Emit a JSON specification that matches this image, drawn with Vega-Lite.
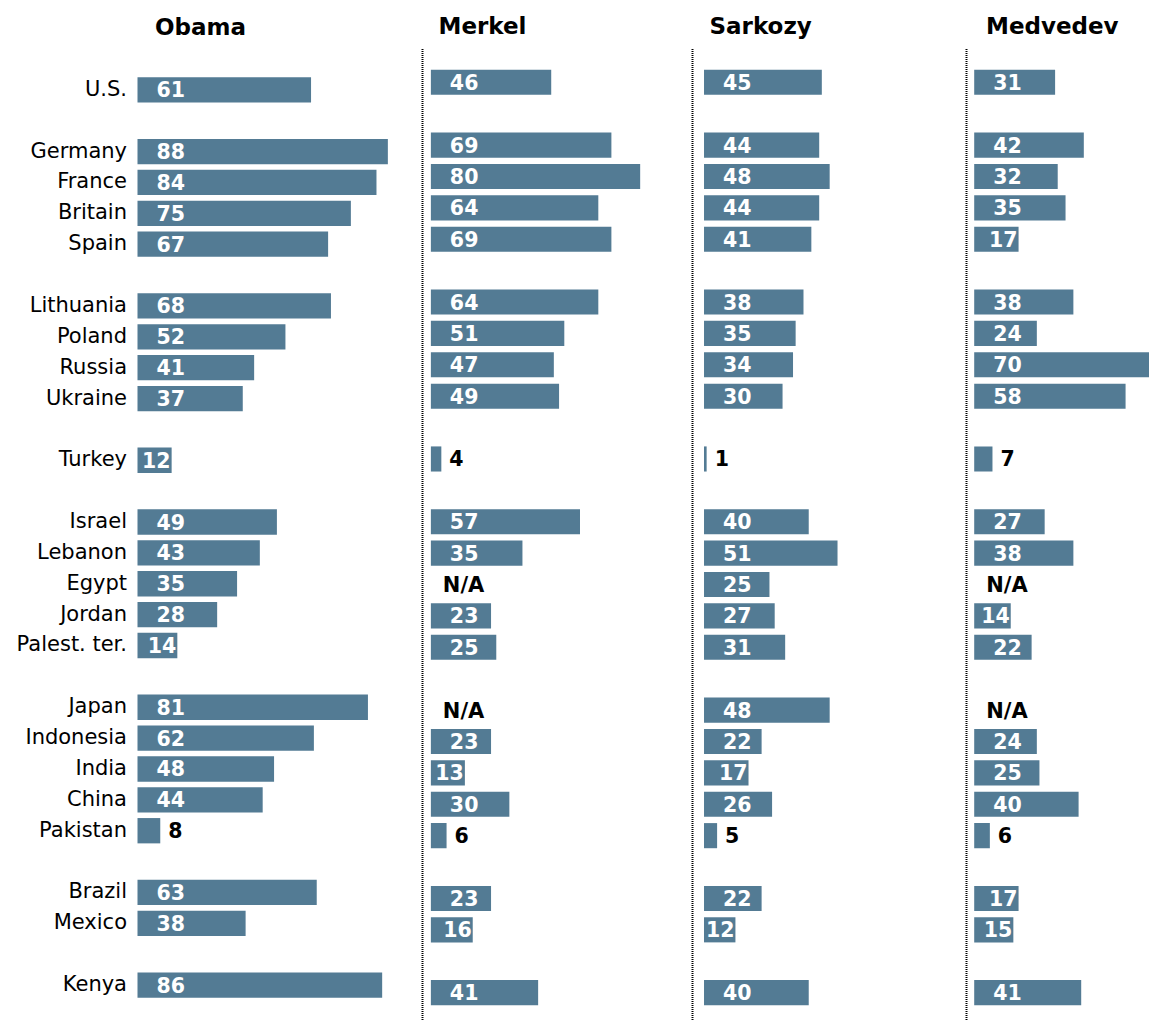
{
  "$schema": "https://vega.github.io/schema/vega-lite/v6.json",
  "padding": {"left": 15.5, "top": 16, "right": 0, "bottom": 0},
  "spacing": 0,
  "bounds": "flush",
  "config": {
    "view": {"stroke": null},
    "font": "DejaVu Sans",
    "title": {"font": "DejaVu Sans", "fontSize": 23, "fontWeight": "bold", "color": "#000000", "anchor": "start", "frame": "group", "baseline": "alphabetic", "offset": 9},
    "axis": {"labelFont": "DejaVu Sans", "labelFontSize": 21, "labelColor": "#000000", "ticks": false, "domain": false, "grid": false, "title": null, "labelPadding": 11}
  },
  "datasets": {
    "fav": [
      {"country": "U.S.", "leader": "Obama", "value": 61},
      {"country": "Germany", "leader": "Obama", "value": 88},
      {"country": "France", "leader": "Obama", "value": 84},
      {"country": "Britain", "leader": "Obama", "value": 75},
      {"country": "Spain", "leader": "Obama", "value": 67},
      {"country": "Lithuania", "leader": "Obama", "value": 68},
      {"country": "Poland", "leader": "Obama", "value": 52},
      {"country": "Russia", "leader": "Obama", "value": 41},
      {"country": "Ukraine", "leader": "Obama", "value": 37},
      {"country": "Turkey", "leader": "Obama", "value": 12},
      {"country": "Israel", "leader": "Obama", "value": 49},
      {"country": "Lebanon", "leader": "Obama", "value": 43},
      {"country": "Egypt", "leader": "Obama", "value": 35},
      {"country": "Jordan", "leader": "Obama", "value": 28},
      {"country": "Palest. ter.", "leader": "Obama", "value": 14},
      {"country": "Japan", "leader": "Obama", "value": 81},
      {"country": "Indonesia", "leader": "Obama", "value": 62},
      {"country": "India", "leader": "Obama", "value": 48},
      {"country": "China", "leader": "Obama", "value": 44},
      {"country": "Pakistan", "leader": "Obama", "value": 8},
      {"country": "Brazil", "leader": "Obama", "value": 63},
      {"country": "Mexico", "leader": "Obama", "value": 38},
      {"country": "Kenya", "leader": "Obama", "value": 86},

      {"country": "U.S.", "leader": "Merkel", "value": 46},
      {"country": "Germany", "leader": "Merkel", "value": 69},
      {"country": "France", "leader": "Merkel", "value": 80},
      {"country": "Britain", "leader": "Merkel", "value": 64},
      {"country": "Spain", "leader": "Merkel", "value": 69},
      {"country": "Lithuania", "leader": "Merkel", "value": 64},
      {"country": "Poland", "leader": "Merkel", "value": 51},
      {"country": "Russia", "leader": "Merkel", "value": 47},
      {"country": "Ukraine", "leader": "Merkel", "value": 49},
      {"country": "Turkey", "leader": "Merkel", "value": 4},
      {"country": "Israel", "leader": "Merkel", "value": 57},
      {"country": "Lebanon", "leader": "Merkel", "value": 35},
      {"country": "Egypt", "leader": "Merkel", "value": null},
      {"country": "Jordan", "leader": "Merkel", "value": 23},
      {"country": "Palest. ter.", "leader": "Merkel", "value": 25},
      {"country": "Japan", "leader": "Merkel", "value": null},
      {"country": "Indonesia", "leader": "Merkel", "value": 23},
      {"country": "India", "leader": "Merkel", "value": 13},
      {"country": "China", "leader": "Merkel", "value": 30},
      {"country": "Pakistan", "leader": "Merkel", "value": 6},
      {"country": "Brazil", "leader": "Merkel", "value": 23},
      {"country": "Mexico", "leader": "Merkel", "value": 16},
      {"country": "Kenya", "leader": "Merkel", "value": 41},

      {"country": "U.S.", "leader": "Sarkozy", "value": 45},
      {"country": "Germany", "leader": "Sarkozy", "value": 44},
      {"country": "France", "leader": "Sarkozy", "value": 48},
      {"country": "Britain", "leader": "Sarkozy", "value": 44},
      {"country": "Spain", "leader": "Sarkozy", "value": 41},
      {"country": "Lithuania", "leader": "Sarkozy", "value": 38},
      {"country": "Poland", "leader": "Sarkozy", "value": 35},
      {"country": "Russia", "leader": "Sarkozy", "value": 34},
      {"country": "Ukraine", "leader": "Sarkozy", "value": 30},
      {"country": "Turkey", "leader": "Sarkozy", "value": 1},
      {"country": "Israel", "leader": "Sarkozy", "value": 40},
      {"country": "Lebanon", "leader": "Sarkozy", "value": 51},
      {"country": "Egypt", "leader": "Sarkozy", "value": 25},
      {"country": "Jordan", "leader": "Sarkozy", "value": 27},
      {"country": "Palest. ter.", "leader": "Sarkozy", "value": 31},
      {"country": "Japan", "leader": "Sarkozy", "value": 48},
      {"country": "Indonesia", "leader": "Sarkozy", "value": 22},
      {"country": "India", "leader": "Sarkozy", "value": 17},
      {"country": "China", "leader": "Sarkozy", "value": 26},
      {"country": "Pakistan", "leader": "Sarkozy", "value": 5},
      {"country": "Brazil", "leader": "Sarkozy", "value": 22},
      {"country": "Mexico", "leader": "Sarkozy", "value": 12},
      {"country": "Kenya", "leader": "Sarkozy", "value": 40},

      {"country": "U.S.", "leader": "Medvedev", "value": 31},
      {"country": "Germany", "leader": "Medvedev", "value": 42},
      {"country": "France", "leader": "Medvedev", "value": 32},
      {"country": "Britain", "leader": "Medvedev", "value": 35},
      {"country": "Spain", "leader": "Medvedev", "value": 17},
      {"country": "Lithuania", "leader": "Medvedev", "value": 38},
      {"country": "Poland", "leader": "Medvedev", "value": 24},
      {"country": "Russia", "leader": "Medvedev", "value": 70},
      {"country": "Ukraine", "leader": "Medvedev", "value": 58},
      {"country": "Turkey", "leader": "Medvedev", "value": 7},
      {"country": "Israel", "leader": "Medvedev", "value": 27},
      {"country": "Lebanon", "leader": "Medvedev", "value": 38},
      {"country": "Egypt", "leader": "Medvedev", "value": null},
      {"country": "Jordan", "leader": "Medvedev", "value": 14},
      {"country": "Palest. ter.", "leader": "Medvedev", "value": 22},
      {"country": "Japan", "leader": "Medvedev", "value": null},
      {"country": "Indonesia", "leader": "Medvedev", "value": 24},
      {"country": "India", "leader": "Medvedev", "value": 25},
      {"country": "China", "leader": "Medvedev", "value": 40},
      {"country": "Pakistan", "leader": "Medvedev", "value": 6},
      {"country": "Brazil", "leader": "Medvedev", "value": 17},
      {"country": "Mexico", "leader": "Medvedev", "value": 15},
      {"country": "Kenya", "leader": "Medvedev", "value": 41}
    ]
  },
  "hconcat": [
    {
      "width": 284.5,
      "height": 973,
      "title": {"text": "Obama", "dx": 17.5},
      "data": {"name": "fav"},
      "transform": [{"filter": "datum.leader == 'Obama'"}],
      "layer": [
        {
          "mark": {"type": "bar", "color": "#537b94"},
          "encoding": {
            "x": {"field": "value", "type": "quantitative", "scale": {"domain": [0, 100], "nice": false, "zero": false}, "axis": null},
            "y": {"field": "country", "type": "nominal", "sort": null,
                  "scale": {"domain": ["U.S.","g1","Germany","France","Britain","Spain","g2","Lithuania","Poland","Russia","Ukraine","g3","Turkey","g4","Israel","Lebanon","Egypt","Jordan","Palest. ter.","g5","Japan","Indonesia","India","China","Pakistan","g6","Brazil","Mexico","g7","Kenya"], "range": [25.4, 951.5], "paddingInner": 0.18, "paddingOuter": 0.09},
                  "axis": {"labelExpr": "indexof(datum.value, 'g') == 0 && length(datum.value) == 2 ? '' : datum.value"}}
          }
        },
        {
          "transform": [{"filter": "datum.value >= 20"}],
          "mark": {"type": "text", "color": "#ffffff", "fontWeight": "bold", "fontSize": 20.5, "align": "left", "baseline": "middle", "dx": 19, "dy": 1.5},
          "encoding": {
            "x": {"datum": 0, "type": "quantitative"},
            "y": {"field": "country", "type": "nominal"},
            "text": {"field": "value", "type": "quantitative"}
          }
        },
        {
          "transform": [{"filter": "datum.value >= 10 && datum.value < 20"}],
          "mark": {"type": "text", "color": "#ffffff", "fontWeight": "bold", "fontSize": 20.5, "align": "right", "baseline": "middle", "dx": -1, "dy": 1.5},
          "encoding": {
            "x": {"field": "value", "type": "quantitative"},
            "y": {"field": "country", "type": "nominal"},
            "text": {"field": "value", "type": "quantitative"}
          }
        },
        {
          "transform": [{"filter": "datum.value != null && datum.value < 10"}],
          "mark": {"type": "text", "color": "#000000", "fontWeight": "bold", "fontSize": 20.5, "align": "left", "baseline": "middle", "dx": 8, "dy": 1.5},
          "encoding": {
            "x": {"field": "value", "type": "quantitative"},
            "y": {"field": "country", "type": "nominal"},
            "text": {"field": "value", "type": "quantitative"}
          }
        }
      ]
    },
    {
      "width": 270,
      "height": 973,
      "title": {"text": "Merkel", "dx": 16},
      "data": {"name": "fav"},
      "transform": [{"filter": "datum.leader == 'Merkel'"}],
      "layer": [
        {
          "transform": [{"filter": "datum.country == 'U.S.'"}],
          "mark": {"type": "rule", "color": "#000000", "strokeWidth": 2, "strokeDash": [1, 1]},
          "encoding": {"x": {"datum": -3.2, "type": "quantitative"}}
        },
        {
          "mark": {"type": "bar", "color": "#537b94"},
          "encoding": {
            "x": {"field": "value", "type": "quantitative", "scale": {"domain": [-3.2, 100], "nice": false, "zero": false}, "axis": null},
            "y": {"field": "country", "type": "nominal", "sort": null,
                  "scale": {"domain": ["U.S.","g1","Germany","France","Britain","Spain","g2","Lithuania","Poland","Russia","Ukraine","g3","Turkey","g4","Israel","Lebanon","Egypt","Jordan","Palest. ter.","g5","Japan","Indonesia","India","China","Pakistan","g6","Brazil","Mexico","g7","Kenya"], "range": [17.6, 959.3], "paddingInner": 0.2, "paddingOuter": 0.1},
                  "axis": null}
          }
        },
        {
          "transform": [{"filter": "datum.value >= 20"}],
          "mark": {"type": "text", "color": "#ffffff", "fontWeight": "bold", "fontSize": 20.5, "align": "left", "baseline": "middle", "dx": 19, "dy": 1.5},
          "encoding": {
            "x": {"datum": 0, "type": "quantitative"},
            "y": {"field": "country", "type": "nominal"},
            "text": {"field": "value", "type": "quantitative"}
          }
        },
        {
          "transform": [{"filter": "datum.value >= 10 && datum.value < 20"}],
          "mark": {"type": "text", "color": "#ffffff", "fontWeight": "bold", "fontSize": 20.5, "align": "right", "baseline": "middle", "dx": -1, "dy": 1.5},
          "encoding": {
            "x": {"field": "value", "type": "quantitative"},
            "y": {"field": "country", "type": "nominal"},
            "text": {"field": "value", "type": "quantitative"}
          }
        },
        {
          "transform": [{"filter": "datum.value != null && datum.value < 10"}],
          "mark": {"type": "text", "color": "#000000", "fontWeight": "bold", "fontSize": 20.5, "align": "left", "baseline": "middle", "dx": 8, "dy": 1.5},
          "encoding": {
            "x": {"field": "value", "type": "quantitative"},
            "y": {"field": "country", "type": "nominal"},
            "text": {"field": "value", "type": "quantitative"}
          }
        },
        {
          "transform": [{"filter": "datum.value == null"}],
          "mark": {"type": "text", "color": "#000000", "fontWeight": "bold", "fontSize": 21, "align": "left", "baseline": "middle", "dx": 12, "dy": 1.5, "text": "N/A"},
          "encoding": {
            "x": {"datum": 0, "type": "quantitative"},
            "y": {"field": "country", "type": "nominal"}
          }
        }
      ]
    },
    {
      "width": 273.3,
      "height": 973,
      "title": {"text": "Sarkozy", "dx": 17},
      "data": {"name": "fav"},
      "transform": [{"filter": "datum.leader == 'Sarkozy'"}],
      "layer": [
        {
          "transform": [{"filter": "datum.country == 'U.S.'"}],
          "mark": {"type": "rule", "color": "#000000", "strokeWidth": 2, "strokeDash": [1, 1]},
          "encoding": {"x": {"datum": -4.4, "type": "quantitative"}}
        },
        {
          "mark": {"type": "bar", "color": "#537b94"},
          "encoding": {
            "x": {"field": "value", "type": "quantitative", "scale": {"domain": [-4.4, 100], "nice": false, "zero": false}, "axis": null},
            "y": {"field": "country", "type": "nominal", "sort": null,
                  "scale": {"domain": ["U.S.","g1","Germany","France","Britain","Spain","g2","Lithuania","Poland","Russia","Ukraine","g3","Turkey","g4","Israel","Lebanon","Egypt","Jordan","Palest. ter.","g5","Japan","Indonesia","India","China","Pakistan","g6","Brazil","Mexico","g7","Kenya"], "range": [17.6, 959.3], "paddingInner": 0.2, "paddingOuter": 0.1},
                  "axis": null}
          }
        },
        {
          "transform": [{"filter": "datum.value >= 20"}],
          "mark": {"type": "text", "color": "#ffffff", "fontWeight": "bold", "fontSize": 20.5, "align": "left", "baseline": "middle", "dx": 19, "dy": 1.5},
          "encoding": {
            "x": {"datum": 0, "type": "quantitative"},
            "y": {"field": "country", "type": "nominal"},
            "text": {"field": "value", "type": "quantitative"}
          }
        },
        {
          "transform": [{"filter": "datum.value >= 10 && datum.value < 20"}],
          "mark": {"type": "text", "color": "#ffffff", "fontWeight": "bold", "fontSize": 20.5, "align": "right", "baseline": "middle", "dx": -1, "dy": 1.5},
          "encoding": {
            "x": {"field": "value", "type": "quantitative"},
            "y": {"field": "country", "type": "nominal"},
            "text": {"field": "value", "type": "quantitative"}
          }
        },
        {
          "transform": [{"filter": "datum.value != null && datum.value < 10"}],
          "mark": {"type": "text", "color": "#000000", "fontWeight": "bold", "fontSize": 20.5, "align": "left", "baseline": "middle", "dx": 8, "dy": 1.5},
          "encoding": {
            "x": {"field": "value", "type": "quantitative"},
            "y": {"field": "country", "type": "nominal"},
            "text": {"field": "value", "type": "quantitative"}
          }
        }
      ]
    },
    {
      "width": 184,
      "height": 973,
      "title": {"text": "Medvedev", "dx": 19.5},
      "data": {"name": "fav"},
      "transform": [{"filter": "datum.leader == 'Medvedev'"}],
      "layer": [
        {
          "transform": [{"filter": "datum.country == 'U.S.'"}],
          "mark": {"type": "rule", "color": "#000000", "strokeWidth": 2, "strokeDash": [1, 1]},
          "encoding": {"x": {"datum": -2.95, "type": "quantitative"}}
        },
        {
          "mark": {"type": "bar", "color": "#537b94", "clip": true},
          "encoding": {
            "x": {"field": "value", "type": "quantitative", "scale": {"domain": [-2.95, 67.55], "nice": false, "zero": false}, "axis": null},
            "y": {"field": "country", "type": "nominal", "sort": null,
                  "scale": {"domain": ["U.S.","g1","Germany","France","Britain","Spain","g2","Lithuania","Poland","Russia","Ukraine","g3","Turkey","g4","Israel","Lebanon","Egypt","Jordan","Palest. ter.","g5","Japan","Indonesia","India","China","Pakistan","g6","Brazil","Mexico","g7","Kenya"], "range": [17.6, 959.3], "paddingInner": 0.2, "paddingOuter": 0.1},
                  "axis": null}
          }
        },
        {
          "transform": [{"filter": "datum.value >= 20"}],
          "mark": {"type": "text", "color": "#ffffff", "fontWeight": "bold", "fontSize": 20.5, "align": "left", "baseline": "middle", "dx": 19, "dy": 1.5},
          "encoding": {
            "x": {"datum": 0, "type": "quantitative"},
            "y": {"field": "country", "type": "nominal"},
            "text": {"field": "value", "type": "quantitative"}
          }
        },
        {
          "transform": [{"filter": "datum.value >= 10 && datum.value < 20"}],
          "mark": {"type": "text", "color": "#ffffff", "fontWeight": "bold", "fontSize": 20.5, "align": "right", "baseline": "middle", "dx": -1, "dy": 1.5},
          "encoding": {
            "x": {"field": "value", "type": "quantitative"},
            "y": {"field": "country", "type": "nominal"},
            "text": {"field": "value", "type": "quantitative"}
          }
        },
        {
          "transform": [{"filter": "datum.value != null && datum.value < 10"}],
          "mark": {"type": "text", "color": "#000000", "fontWeight": "bold", "fontSize": 20.5, "align": "left", "baseline": "middle", "dx": 8, "dy": 1.5},
          "encoding": {
            "x": {"field": "value", "type": "quantitative"},
            "y": {"field": "country", "type": "nominal"},
            "text": {"field": "value", "type": "quantitative"}
          }
        },
        {
          "transform": [{"filter": "datum.value == null"}],
          "mark": {"type": "text", "color": "#000000", "fontWeight": "bold", "fontSize": 21, "align": "left", "baseline": "middle", "dx": 12, "dy": 1.5, "text": "N/A"},
          "encoding": {
            "x": {"datum": 0, "type": "quantitative"},
            "y": {"field": "country", "type": "nominal"}
          }
        }
      ]
    }
  ]
}
